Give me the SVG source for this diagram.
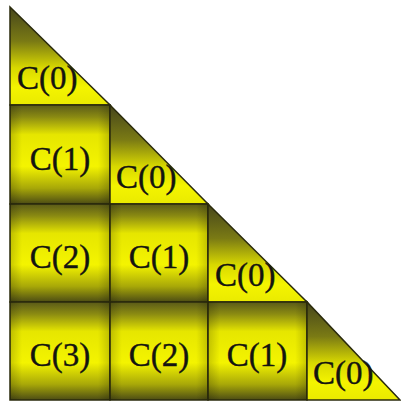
<svg xmlns="http://www.w3.org/2000/svg" width="401" height="402" viewBox="0 0 401 402">
<defs>
<linearGradient id="gr" x1="0" y1="0" x2="0" y2="1">
<stop offset="0" stop-color="#5a5a18"/>
<stop offset="0.12" stop-color="#8a8a12"/>
<stop offset="0.3" stop-color="#e6e600"/>
<stop offset="0.62" stop-color="#f4f400"/>
<stop offset="0.84" stop-color="#a8a808"/>
<stop offset="1" stop-color="#4c4c14"/>
</linearGradient>
<linearGradient id="gt" x1="0" y1="0" x2="0" y2="1">
<stop offset="0" stop-color="#45451c"/>
<stop offset="0.35" stop-color="#7a7a14"/>
<stop offset="0.62" stop-color="#d8d800"/>
<stop offset="0.82" stop-color="#f4f400"/>
<stop offset="1" stop-color="#eaea00"/>
</linearGradient>
<linearGradient id="gh" x1="0" y1="0" x2="1" y2="0">
<stop offset="0" stop-color="#000" stop-opacity="0.18"/>
<stop offset="0.12" stop-color="#000" stop-opacity="0"/>
<stop offset="0.88" stop-color="#000" stop-opacity="0"/>
<stop offset="1" stop-color="#000" stop-opacity="0.18"/>
</linearGradient>
</defs>
<style>
.r{fill:url(#gr);stroke:#2a2a0c;stroke-width:1.5}
.s{fill:url(#gh)}
.t{fill:url(#gt);stroke:#2a2a0c;stroke-width:1.5;stroke-linejoin:miter}
text{font-family:"Liberation Serif","Times New Roman",serif;font-size:33px;fill:#141410;stroke:#141410;stroke-width:0.4}
.c{text-anchor:middle}
</style>
<rect width="401" height="402" fill="#fff"/>
<g id="t0"><polygon class="t" points="10,7 10,105 110,105"/><text x="17" y="89">C(0)</text></g>
<g id="r1c1"><rect class="r" x="10" y="105" width="100" height="99"/><rect class="s" x="10" y="105" width="100" height="99"/><text class="c" x="60" y="170">C(1)</text></g>
<g id="t1"><polygon class="t" points="110,105 110,204 208,204"/><text x="116" y="188">C(0)</text></g>
<g id="r2c1"><rect class="r" x="10" y="204" width="100" height="98"/><rect class="s" x="10" y="204" width="100" height="98"/><text class="c" x="60" y="268">C(2)</text></g>
<g id="r2c2"><rect class="r" x="110" y="204" width="98" height="98"/><rect class="s" x="110" y="204" width="98" height="98"/><text class="c" x="159" y="268">C(1)</text></g>
<g id="t2"><polygon class="t" points="208,204 208,302 307,302"/><text x="215" y="286">C(0)</text></g>
<g id="r3c1"><rect class="r" x="10" y="302" width="100" height="98"/><rect class="s" x="10" y="302" width="100" height="98"/><text class="c" x="60" y="366">C(3)</text></g>
<g id="r3c2"><rect class="r" x="110" y="302" width="98" height="98"/><rect class="s" x="110" y="302" width="98" height="98"/><text class="c" x="159" y="366">C(2)</text></g>
<g id="r3c3"><rect class="r" x="208" y="302" width="99" height="98"/><rect class="s" x="208" y="302" width="99" height="98"/><text class="c" x="257" y="366">C(1)</text></g>
<g id="t3"><polygon class="t" points="307,302 307,400 400,400"/><text x="313" y="384">C(0)</text></g>
<g id="connectors"></g>
</svg>
